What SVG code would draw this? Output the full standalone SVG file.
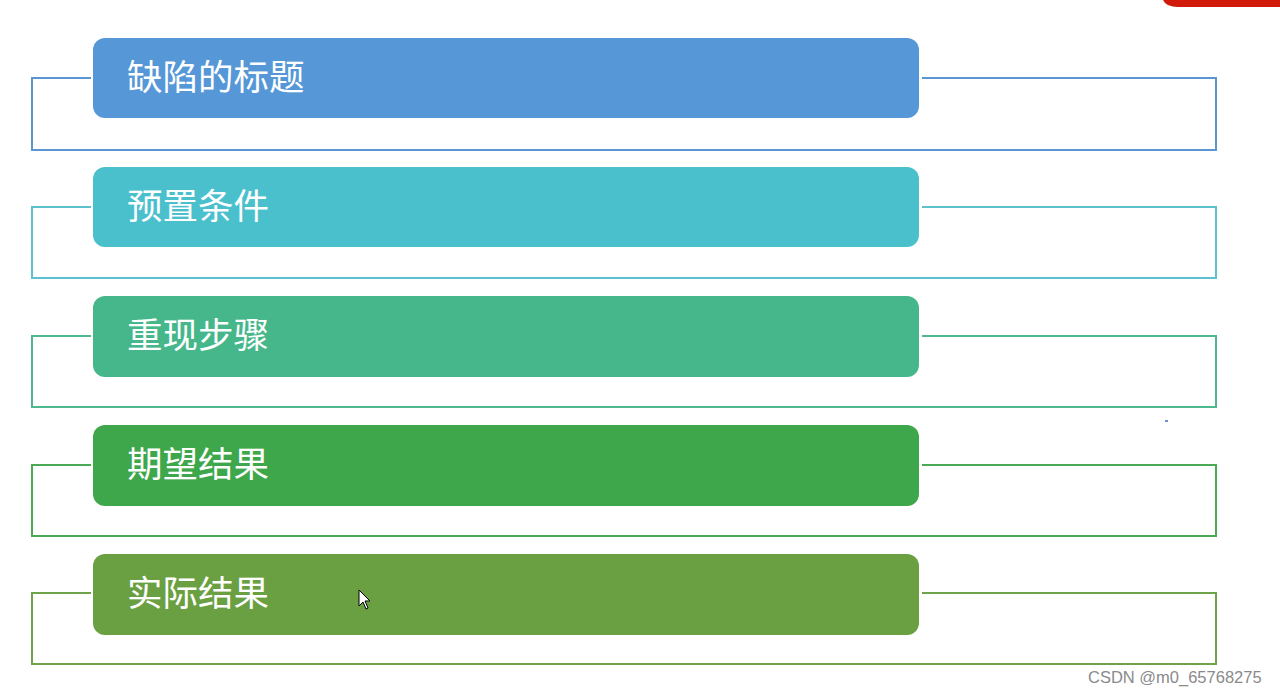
<svg xmlns="http://www.w3.org/2000/svg" width="1280" height="693" viewBox="0 0 1280 693">
<style>
.lbl{font-family:"Noto Sans CJK SC","Noto Sans",sans-serif;font-size:35.5px;fill:#ffffff}
.frame{fill:none;stroke-width:2}
.wm{font-family:"Liberation Sans",Arial,sans-serif;font-size:16.5px;fill:#8a8a8a}
</style>
<rect width="1280" height="693" fill="#ffffff"/>
<path d="M1163 0 H1280 V7 H1178 Q1166 7 1163 0 Z" fill="#d11a0a"/>
<g id="connectors">
<path class="frame" stroke="#5b95cf" d="M91 78 H32 V150 H1216 V78 H922"/>
<path class="frame" stroke="#5cc1cc" d="M91 207 H32 V278 H1216 V207 H922"/>
<path class="frame" stroke="#4fb88e" d="M91 336 H32 V407 H1216 V336 H922"/>
<path class="frame" stroke="#4aa955" d="M91 465 H32 V536 H1216 V465 H922"/>
<path class="frame" stroke="#6ea34a" d="M91 593 H32 V664 H1216 V593 H922"/>
</g>
<g id="n1"><rect x="93" y="38" width="826" height="80" rx="12" fill="#5597d7"/><text class="lbl" x="127" y="90">缺陷的标题</text></g>
<g id="n2"><rect x="93" y="167" width="826" height="80" rx="12" fill="#4ac0cd"/><text class="lbl" x="127" y="219">预置条件</text></g>
<g id="n3"><rect x="93" y="296" width="826" height="81" rx="12" fill="#45b78a"/><text class="lbl" x="127" y="348">重现步骤</text></g>
<g id="n4"><rect x="93" y="425" width="826" height="81" rx="12" fill="#3fa74b"/><text class="lbl" x="127" y="477">期望结果</text></g>
<g id="n5"><rect x="93" y="554" width="826" height="81" rx="12" fill="#6aa042"/><text class="lbl" x="127" y="606">实际结果</text></g>
<path d="M359 590 V606 L363 602 L366 609 L368 608 L365 601 L370 601 Z" fill="#ffffff" stroke="#000000" stroke-width="1"/>
<rect x="1165" y="420" width="3" height="2" fill="#6a8fd0"/>
<text class="wm" x="1088" y="683">CSDN @m0_65768275</text>
</svg>
